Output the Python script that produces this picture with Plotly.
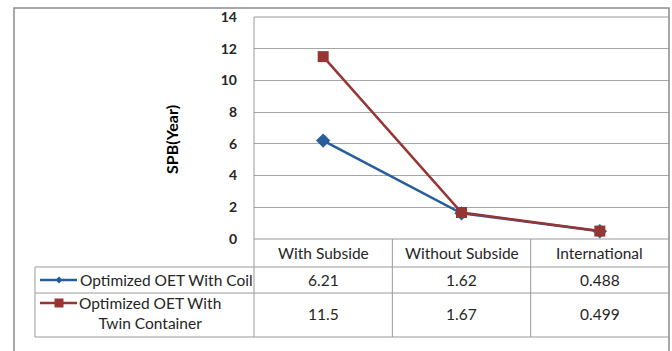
import plotly.graph_objects as go

categories = ["With Subside", "Without Subside", "International"]
series_names = ["Optimized OET With Coil", "Optimized OET With<br>Twin Container"]
coil = [6.21, 1.62, 0.488]
twin = [11.5, 1.67, 0.499]
y_ticks = [0, 2, 4, 6, 8, 10, 12, 14]

W, H = 672, 351
L, R, T, B = 254, 3, 17, 112
PW, PH = W - L - R, H - T - B


def px(X):
    return (X - L) / PW


def py(Y):
    return (H - B - Y) / PH


BLUE = "#255E9B"
RED = "#963634"
GRID = "#a6a6a6"
LINEC = "#9a9a9a"
TXT = "#262626"
FONT = "Lato, 'Open Sans', sans-serif"
FS = 15.5

fig = go.Figure()
fig.add_trace(go.Scatter(x=list(range(len(categories))), y=coil, mode="lines+markers",
                         line=dict(color=BLUE, width=2.5),
                         marker=dict(symbol="diamond", size=11, color=BLUE),
                         showlegend=False, cliponaxis=False))
fig.add_trace(go.Scatter(x=list(range(len(categories))), y=twin, mode="lines+markers",
                         line=dict(color=RED, width=2.5),
                         marker=dict(symbol="square", size=11, color=RED),
                         showlegend=False, cliponaxis=False))

shapes = []
ann = []

def hline(y, x0, x1, color=LINEC, w=1):
    shapes.append(dict(type="line", xref="paper", yref="paper", x0=px(x0), x1=px(x1),
                       y0=py(y), y1=py(y), line=dict(color=color, width=w)))

def vline_px(x, y0, y1, color=LINEC, w=1):
    shapes.append(dict(type="line", xref="paper", yref="paper", x0=px(x), x1=px(x),
                       y0=py(y0), y1=py(y1), line=dict(color=color, width=w)))

# outer border
shapes.append(dict(type="rect", xref="paper", yref="paper", x0=px(14), x1=px(669),
                   y0=py(354), y1=py(8), line=dict(color="#8c8c8c", width=1.5)))
# plot area left / top
vline_px(254, 17, 337)
hline(17, 254, 669)
# table
hline(239, 254, 669)
hline(267, 35, 669)
hline(293, 35, 669)
hline(337, 35, 669)
vline_px(35, 267, 337)
for i in range(1, len(categories)):
    shapes.append(dict(type="line", xref="x", yref="paper", x0=i - 0.5, x1=i - 0.5,
                       y0=py(239), y1=py(337), line=dict(color=LINEC, width=1)))

# category labels
for i, c in enumerate(categories):
    ann.append(dict(x=i, y=py(253), xref="x", yref="paper", text=c, showarrow=False,
                    font=dict(family=FONT, size=FS, color=TXT), xanchor="center", yanchor="middle"))
# values
row_y = [py(280), py(314)]
for r, vals in enumerate([coil, twin]):
    for i, v in enumerate(vals):
        ann.append(dict(x=i, y=row_y[r], xref="x", yref="paper", text=str(v), showarrow=False,
                        font=dict(family=FONT, size=FS, color=TXT), xanchor="center", yanchor="middle"))

# legend keys
key_y = [280, 303]
key_sz = [3.5, 4.5]
for r, (col, sym) in enumerate([(BLUE, "diamond"), (RED, "square")]):
    shapes.append(dict(type="line", xref="paper", yref="paper", x0=px(40), x1=px(77),
                       y0=py(key_y[r]), y1=py(key_y[r]), line=dict(color=col, width=2.5)))
    cx, cy, s = 59, key_y[r], key_sz[r]
    if sym == "diamond":
        path = f"M {px(cx-s)},{py(cy)} L {px(cx)},{py(cy-s)} L {px(cx+s)},{py(cy)} L {px(cx)},{py(cy+s)} Z"
    else:
        path = f"M {px(cx-s)},{py(cy-s)} L {px(cx+s)},{py(cy-s)} L {px(cx+s)},{py(cy+s)} L {px(cx-s)},{py(cy+s)} Z"
    shapes.append(dict(type="path", xref="paper", yref="paper", path=path,
                       fillcolor=col, line=dict(color=col, width=0)))

ann.append(dict(x=px(78), y=py(280), xref="paper", yref="paper", text=series_names[0],
                showarrow=False, font=dict(family=FONT, size=FS, color=TXT),
                xanchor="left", yanchor="middle"))
ann.append(dict(x=px(150), y=py(313), xref="paper", yref="paper", text=series_names[1],
                showarrow=False, font=dict(family=FONT, size=FS, color=TXT),
                xanchor="center", yanchor="middle", align="center"))

# y-axis title
ann.append(dict(x=px(171), y=py(140), xref="paper", yref="paper", text="<b>SPB(Year)</b>",
                textangle=-90, showarrow=False, font=dict(family=FONT, size=16, color="#000000"),
                xanchor="center", yanchor="middle"))

fig.update_layout(
    width=W, height=H,
    margin=dict(l=L, r=R, t=T, b=B),
    paper_bgcolor="white", plot_bgcolor="white",
    shapes=shapes, annotations=ann,
    xaxis=dict(range=[-0.5, len(categories) - 0.5], showticklabels=False, showgrid=False,
               zeroline=False, showline=False, ticks=""),
    yaxis=dict(range=[0, 14], tickvals=y_ticks, ticktext=[f"<b>{t}</b>" for t in y_ticks],
               showgrid=True, gridcolor=GRID, gridwidth=1, zeroline=False, showline=False,
               ticks="", ticklabelstandoff=16,
               tickfont=dict(family=FONT, size=14, color="#262626")),
    font=dict(family=FONT),
)

fig.write_html("out.html")
